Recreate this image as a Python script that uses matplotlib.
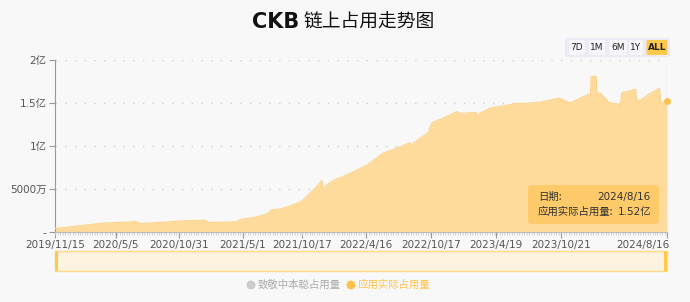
import matplotlib
matplotlib.use("Agg")
import matplotlib.pyplot as plt
import matplotlib.dates as mdates
import numpy as np
from datetime import datetime, timedelta
from matplotlib.patches import FancyBboxPatch, Rectangle

plt.rcParams['font.family'] = ['Noto Sans CJK SC', 'DejaVu Sans']

title = "CKB 链上占用走势图"
series_name = "应用实际占用量"
legend_names = ["致敬中本聪占用量", "应用实际占用量"]
range_buttons = ["7D", "1M", "6M", "1Y", "ALL"]

dates = [
    "2019-11-15", "2019-12-27", "2020-02-08", "2020-03-21", "2020-05-06", "2020-06-14",
    "2020-07-01", "2020-07-10", "2020-08-10", "2020-09-22", "2020-11-12", "2020-12-30",
    "2021-01-13", "2021-01-27", "2021-03-11", "2021-04-14", "2021-04-28", "2021-06-04",
    "2021-07-08", "2021-07-22", "2021-08-10", "2021-09-11", "2021-10-10", "2021-10-18",
    "2021-11-07", "2021-11-27", "2021-12-11", "2021-12-13", "2021-12-26", "2022-01-12",
    "2022-03-01", "2022-04-18", "2022-06-02", "2022-07-20", "2022-08-18", "2022-08-21",
    "2022-09-15", "2022-10-08", "2022-10-19", "2022-11-11", "2022-12-09", "2022-12-29",
    "2023-01-07", "2023-02-21", "2023-02-24", "2023-04-01", "2023-06-25", "2023-07-01",
    "2023-08-21", "2023-10-16", "2023-11-14", "2023-12-21", "2024-01-12", "2024-01-14",
    "2024-01-28", "2024-01-30", "2024-02-10", "2024-03-06", "2024-04-03", "2024-04-05",
    "2024-04-10", "2024-05-02", "2024-05-19", "2024-05-21", "2024-06-01", "2024-06-28",
    "2024-07-26", "2024-07-29", "2024-08-16",
]
values_yi = [
    0.04, 0.06, 0.08, 0.10, 0.11, 0.115,
    0.125, 0.10, 0.105, 0.115, 0.13, 0.135,
    0.14, 0.11, 0.115, 0.12, 0.15, 0.17,
    0.21, 0.26, 0.265, 0.30, 0.35, 0.37,
    0.45, 0.53, 0.60, 0.50, 0.55, 0.60,
    0.68, 0.78, 0.915, 0.99, 1.04, 1.01,
    1.09, 1.15, 1.27, 1.31, 1.36, 1.40,
    1.38, 1.39, 1.36, 1.44, 1.50, 1.49,
    1.51, 1.555, 1.50, 1.57, 1.61, 1.81,
    1.81, 1.62, 1.61, 1.50, 1.485, 1.46,
    1.62, 1.64, 1.66, 1.535, 1.53, 1.61,
    1.67, 1.50, 1.52,
]
tick_dates = ["2019-11-15", "2020-05-05", "2020-10-31", "2021-05-01", "2021-10-17",
              "2022-04-16", "2022-10-17", "2023-04-19", "2023-10-21", "2024-08-16"]
tick_labels = ["2019/11/15", "2020/5/5", "2020/10/31", "2021/5/1", "2021/10/17",
               "2022/4/16", "2022/10/17", "2023/4/19", "2023/10/21", "2024/8/16"]
y_ticks = [0, 0.5, 1.0, 1.5, 2.0]
y_tick_labels = ["-", "5000万", "1亿", "1.5亿", "2亿"]
tooltip_date = "2024/8/16"
tooltip_value = "1.52亿"

x = [datetime.strptime(d, "%Y-%m-%d") for d in dates]
xt = [datetime.strptime(d, "%Y-%m-%d") for d in tick_dates]

BG = "#f8f8f8"
FILL = "#fedb9a"
LINE = "#fdd388"
ORANGE = "#ffc34d"

W, H = 690, 302
fig = plt.figure(figsize=(W / 100, H / 100), dpi=100, facecolor=BG)
ax = fig.add_axes([55 / W, 70 / H, (667 - 55) / W, (232 - 60) / H], facecolor=BG)

ax.fill_between(x, values_yi, 0, color=FILL, linewidth=0, zorder=2)
ax.plot(x, values_yi, color=LINE, linewidth=0.8, zorder=3)

ax.set_xlim(x[0], x[-1])
ax.set_ylim(0, 2.0)

ax.set_yticks(y_ticks)
ax.set_yticklabels(y_tick_labels)
ax.set_xticks(xt)
ax.set_xticklabels(tick_labels)
ax.xaxis.set_minor_locator(mdates.DayLocator(interval=7))

for yv in y_ticks[1:]:
    ax.axhline(yv, color="#cfcfcf", linewidth=1.0, linestyle=(0, (1, 6)), zorder=1)

for s in ["top", "right"]:
    ax.spines[s].set_visible(False)
ax.spines["left"].set_color("#9a9a9a")
ax.spines["bottom"].set_color("#bbbbbb")
ax.tick_params(axis="y", colors="#9a9a9a", labelcolor="#555555", labelsize=8, length=4, width=0.8, pad=2)
ax.tick_params(axis="x", which="major", colors="#9a9a9a", labelcolor="#555555", labelsize=8, length=4, width=0.8, pad=2)
ax.tick_params(axis="x", which="minor", colors="#cccccc", length=2, width=0.6)
for lab in ax.get_xticklabels() + ax.get_yticklabels():
    lab.set_family(["DejaVu Sans", "Noto Sans CJK SC"])
    lab.set_fontsize(7.5)
last = ax.get_xticklabels()[-1]
last.set_ha("right")
last.set_x(0)
import matplotlib.transforms as mtrans
last.set_transform(last.get_transform() + mtrans.ScaledTranslation(3 / 100, 0, fig.dpi_scale_trans))

# axis pointer and dot at last point
ax.axvline(x[-1], color="#dddddd", linewidth=1, zorder=4)
ax.plot([x[-1]], [values_yi[-1]], "o", color=ORANGE, markersize=4, zorder=6, clip_on=False)

# tooltip
tip = FancyBboxPatch((528 / W, (302 - 224) / H), (659 - 528) / W, (224 - 185) / H,
                     boxstyle="round,pad=0,rounding_size=0.01", transform=fig.transFigure,
                     facecolor="#ffc966", edgecolor="none", alpha=0.92, zorder=10)
fig.patches.append(tip)
fig.text(538 / W, (302 - 197) / H, "日期:", fontsize=7.5, color="#333333", va="center", ha="left", zorder=12)
fig.text(651 / W, (302 - 197) / H, tooltip_date, fontsize=7.5, color="#333333", va="center", ha="right",
         family=["DejaVu Sans"], zorder=12)
fig.text(538 / W, (302 - 212) / H, series_name + ":", fontsize=7.5, color="#333333", va="center", ha="left",
         zorder=12)
fig.text(651 / W, (302 - 212) / H, tooltip_value, fontsize=7.5, color="#333333", va="center", ha="right",
         family=["DejaVu Sans", "Noto Sans CJK SC"], zorder=12)

# title
fig.text(299 / W, (302 - 22) / H, "CKB", fontsize=15, fontweight="bold", color="#111111",
         va="center", ha="right", family=["DejaVu Sans"])
fig.text(304 / W, (302 - 22) / H, title.split(" ", 1)[1], fontsize=13.5, color="#111111",
         va="center", ha="left")

# range buttons
btn_bg = FancyBboxPatch((565 / W, (302 - 57) / H), (670 - 565) / W, 19 / H,
                        boxstyle="round,pad=0,rounding_size=0.005", transform=fig.transFigure,
                        facecolor="#ebebf5", edgecolor="none", zorder=1)
fig.patches.append(btn_bg)
btn_x = [577, 597, 618, 636, 657]
btn_w = [16, 16, 18, 14, 21]
for bx, bw, lab in zip(btn_x, btn_w, range_buttons):
    col = "#ffc94d" if lab == "ALL" else "#f6f6fb"
    r = FancyBboxPatch(((bx - bw / 2) / W, (302 - 55) / H), bw / W, 15 / H,
                       boxstyle="round,pad=0,rounding_size=0.004", transform=fig.transFigure,
                       facecolor=col, edgecolor="none", zorder=2)
    fig.patches.append(r)
    fig.text(bx / W, (302 - 47.5) / H, lab, fontsize=6.5, color="#222222", ha="center", va="center",
             fontweight="bold" if lab == "ALL" else "normal", family=["DejaVu Sans"], zorder=3)

# data zoom slider
sl = Rectangle((55 / W, (302 - 271) / H), (667 - 55) / W, 20 / H, transform=fig.transFigure,
               facecolor="#fef3de", edgecolor="#ffd98a", linewidth=1.0)
fig.patches.append(sl)
for hx in [55, 664]:
    h = Rectangle((hx / W, (302 - 271) / H), 3 / W, 20 / H, transform=fig.transFigure,
                  facecolor="#ffc94d", edgecolor="none")
    fig.patches.append(h)

# legend
fig.patches.append(matplotlib.patches.Ellipse((251 / W, (302 - 285) / H), 9 / W, 9 / H,
                                              transform=fig.transFigure, facecolor="#cccccc", edgecolor="none"))
fig.text(258 / W, (302 - 285) / H, legend_names[0], fontsize=7.5, color="#aaaaaa", ha="left", va="center")
fig.patches.append(matplotlib.patches.Ellipse((351 / W, (302 - 285) / H), 9 / W, 9 / H,
                                              transform=fig.transFigure, facecolor=ORANGE, edgecolor="none"))
fig.text(358 / W, (302 - 285) / H, legend_names[1], fontsize=7.5, color=ORANGE, ha="left", va="center")

fig.savefig("out.png", dpi=100, facecolor=BG)
